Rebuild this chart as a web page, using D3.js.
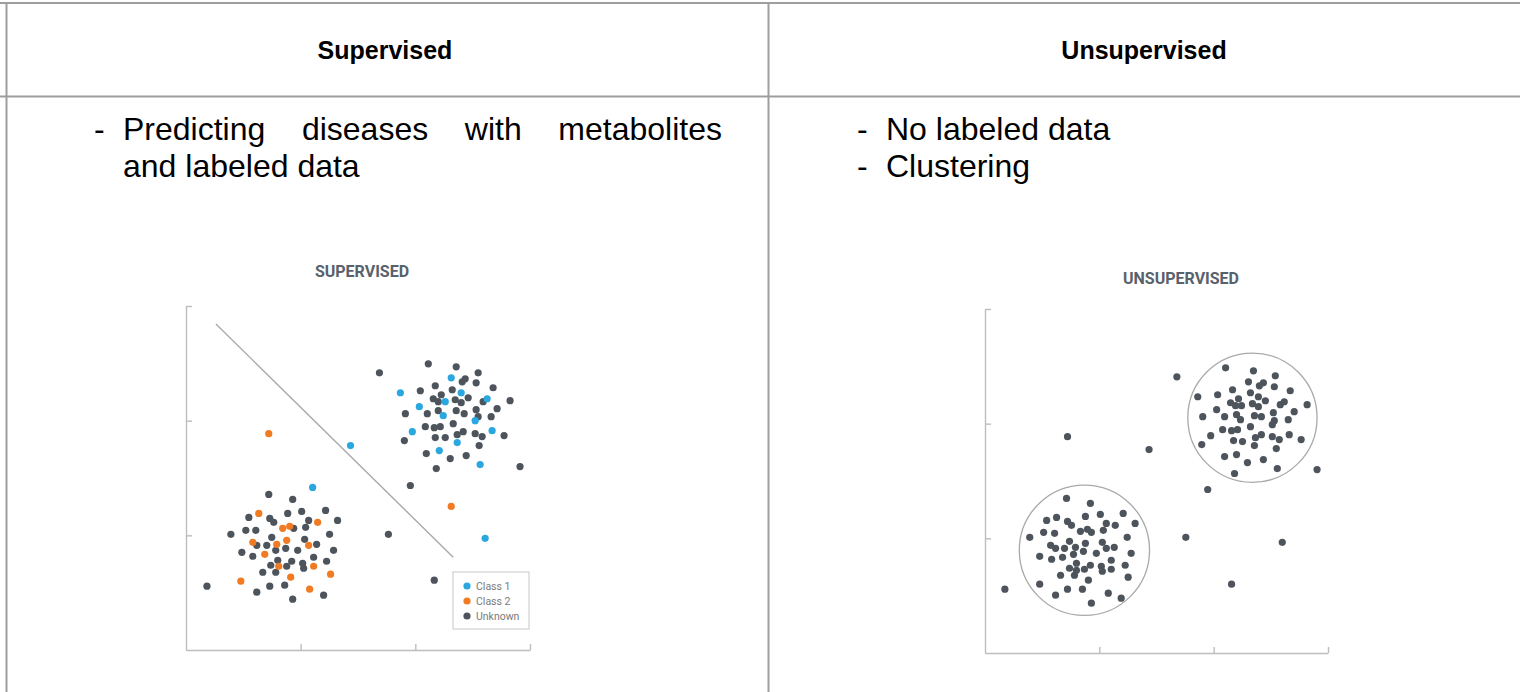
<!DOCTYPE html>
<html>
<head>
<meta charset="utf-8">
<script src="https://cdn.jsdelivr.net/npm/d3@7"></script>
<style>
  html,body{margin:0;padding:0;background:#fff;overflow:hidden}
  svg{display:block}
  .hdr{font-family:"Liberation Sans",Arial,sans-serif;font-weight:bold;font-size:25px;fill:#000}
  .txt{font-family:"Liberation Sans",Arial,sans-serif;font-size:32px;fill:#000}
  .ctitle{font-family:Roboto,sans-serif;font-weight:bold;font-size:16px;fill:#59616a}
  .axis path,.axis line{stroke:#bdbdbd;stroke-width:1.4}
  .leg text{font-family:Roboto,sans-serif;font-size:10.5px;fill:#7a7a7a}
</style>
</head>
<body>
<script>
// columns of the table
const headers = ['Supervised','Unsupervised']
const bulletsLeft = [['Predicting diseases with metabolites','and labeled data']]
const bulletsRight = [['No labeled data'],['Clustering']]

// axis ticks (data units, no labels)
const ticks = [115,230,345]

// supervised scatter, [x,y]
const class1 = [[165,205],[266,273],[215,258],[276,258],[260,249],[302,252],[234,244],[258,235],
  [290,230],[227,219],[307,220],[272,208],[254,200],[295,186],[300,112],[127,163]]
const class2 = [[83,217],[266,144],[73,137],[132,128],[97,122],[104,124],[67,108],[101,110],
  [91,106],[123,105],[79,96],[93,84],[128,84],[105,73],[145,76],[55,69],[124,61]]
const unknown = [[194,278],[243,287],[271,284],[293,278],[277,269],[280,272],[291,268],[250,265],
  [235,260],[267,261],[308,263],[256,256],[248,252],[253,249],[270,251],[276,248],[283,253],
  [298,249],[325,250],[253,240],[271,240],[279,237],[291,241],[312,242],[220,237],[242,237],
  [293,234],[306,234],[268,227],[240,224],[249,223],[255,224],[272,216],[278,219],[290,217],
  [297,214],[319,215],[250,213],[260,213],[219,210],[294,205],[241,197],[265,192],[281,195],
  [335,184],[251,182],[225,165],[203,116],[249,70],
  [83,156],[107,151],[63,133],[84,132],[88,128],[102,137],[116,139],[140,140],[123,130],
  [152,130],[45,116],[60,120],[70,120],[108,122],[120,123],[144,116],[86,113],[119,111],
  [71,105],[81,105],[131,106],[56,98],[90,100],[100,102],[112,100],[148,100],[67,94],[92,90],
  [106,89],[117,87],[128,93],[141,89],[85,85],[101,84],[118,82],[77,78],[90,78],[21,64],
  [84,64],[99,65],[71,58],[138,55],[107,51]]
// separating line, two end points
const boundary = [[30,327],[268,93]]

// unsupervised scatter, [x,y]
const points = [[83,217],[165,204],[193,277],[242,286],[270,283],[292,278],[265,272],[276,268],
  [280,271],[291,267],[307,263],[214,257],[234,259],[249,264],[267,261],[275,257],[255,255],
  [247,251],[252,248],[258,248],[269,250],[275,247],[282,253],[297,249],[301,252],[324,249],
  [233,244],[219,237],[241,237],[253,239],[257,234],[271,238],[278,237],[290,241],[311,242],
  [291,233],[289,229],[305,234],[267,227],[239,224],[248,223],[254,224],[227,218],[278,219],
  [272,216],[289,217],[296,214],[306,219],[318,214],[250,213],[259,212],[218,209],[271,208],
  [293,205],[253,199],[241,197],[264,191],[280,194],[294,185],[251,180],[334,184],[224,164],
  [202,116],[299,111],[248,69],
  [82,155],[106,150],[72,136],[62,133],[83,132],[87,128],[101,137],[116,139],[139,140],
  [122,130],[131,128],[151,130],[45,116],[59,121],[70,120],[96,122],[103,124],[107,121],
  [119,123],[143,116],[66,108],[71,105],[85,112],[101,110],[118,111],[122,105],[130,106],
  [80,105],[91,106],[89,99],[99,102],[112,100],[147,100],[55,97],[67,94],[78,96],[127,93],
  [92,90],[106,88],[117,87],[141,88],[85,85],[92,83],[100,84],[118,82],[127,84],[76,78],
  [90,78],[144,76],[104,73],[55,69],[20,64],[83,64],[98,64],[71,58],[124,60],[137,55],[107,50]]
const clusters = [[269,236,65],[100,103,65.5]]

const legendItems = ['Class 1','Class 2','Unknown']
const colors = {'Class 1':'#2aa7df','Class 2':'#f07b22','Unknown':'#4d545c'}

const W = 1520, H = 692
const svg = d3.select('body').append('svg').attr('width',W).attr('height',H)

// table lines
const grid = svg.append('g').attr('stroke','#9e9e9e').attr('stroke-width',2)
grid.append('line').attr('x1',0).attr('x2',W).attr('y1',3).attr('y2',3)
grid.append('line').attr('x1',0).attr('x2',W).attr('y1',96.5).attr('y2',96.5)
grid.append('line').attr('x1',6.5).attr('x2',6.5).attr('y1',3).attr('y2',H)
grid.append('line').attr('x1',768.5).attr('x2',768.5).attr('y1',3).attr('y2',H)

svg.selectAll('text.hdr').data(headers).enter().append('text')
  .attr('class','hdr')
  .attr('x',(d,i) => i ? 1144 : 385)
  .attr('y',59)
  .attr('text-anchor','middle')
  .text(d => d)

// justified paragraphs: all lines but the last are stretched to the box width
function bullets(list,x,y,boxW){
  let row = 0
  list.forEach(lines => {
    svg.append('text').attr('class','txt').attr('x',x).attr('y',y+row*37).text('-')
    lines.forEach((l,i) => {
      const t = svg.append('text').attr('class','txt').attr('x',x+29).attr('y',y+row*37).text(l)
      const gaps = l.split(' ').length-1
      if(i < lines.length-1 && gaps > 0){
        const extra = boxW - t.node().getComputedTextLength()
        t.attr('word-spacing',extra/gaps)
      }
      row++
    })
  })
}
bullets(bulletsLeft,94,140,599)
bullets(bulletsRight,857,140,599)

function scatter(x0,y0,w,h,title,titleX,titleY){
  const g = svg.append('g')
  const x = d3.scaleLinear().domain([0,345]).range([x0,x0+w])
  const y = d3.scaleLinear().domain([0,345]).range([y0+h,y0])
  g.append('text').attr('class','ctitle').attr('x',titleX).attr('y',titleY)
    .attr('text-anchor','middle').text(title)
  g.append('g').attr('class','axis').attr('transform',`translate(${x0},0)`)
    .call(d3.axisLeft(y).tickValues(ticks).tickSize(-6).tickSizeOuter(0).tickFormat(''))
  g.append('g').attr('class','axis').attr('transform',`translate(0,${y0+h})`)
    .call(d3.axisBottom(x).tickValues(ticks).tickSize(-6).tickSizeOuter(0).tickFormat(''))
  return {g,x,y}
}

// supervised
const s = scatter(186,306,344,344,'SUPERVISED',362,277)
s.g.append('line')
  .attr('x1',s.x(boundary[0][0])).attr('y1',s.y(boundary[0][1]))
  .attr('x2',s.x(boundary[1][0])).attr('y2',s.y(boundary[1][1]))
  .attr('stroke','#a9a9a9').attr('stroke-width',1.4)
const sets = [['Unknown',unknown],['Class 2',class2],['Class 1',class1]]
sets.forEach(([k,arr]) => {
  s.g.append('g').selectAll('circle').data(arr).enter().append('circle')
    .attr('cx',d => s.x(d[0])).attr('cy',d => s.y(d[1])).attr('r',3.6)
    .attr('fill',colors[k])
})
const leg = s.g.append('g').attr('class','leg').attr('transform','translate(453,572)')
leg.append('rect').attr('width',76).attr('height',57).attr('fill','#fff')
  .attr('stroke','#c8c8c8').attr('stroke-width',1)
legendItems.forEach((k,i) => {
  leg.append('circle').attr('cx',14).attr('cy',14+i*15).attr('r',3.6).attr('fill',colors[k])
  leg.append('text').attr('x',23).attr('y',17.7+i*15).text(k)
})

// unsupervised
const u = scatter(985,309,343,344,'UNSUPERVISED',1181,284)
u.g.append('g').selectAll('circle').data(clusters).enter().append('circle')
  .attr('cx',d => u.x(d[0])).attr('cy',d => u.y(d[1]))
  .attr('r',d => u.x(d[0]+d[2])-u.x(d[0]))
  .attr('fill','none').attr('stroke','#a9a9a9').attr('stroke-width',1.3)
u.g.append('g').selectAll('circle').data(points).enter().append('circle')
  .attr('cx',d => u.x(d[0])).attr('cy',d => u.y(d[1])).attr('r',3.6)
  .attr('fill',colors['Unknown'])
</script>
</body>
</html>
